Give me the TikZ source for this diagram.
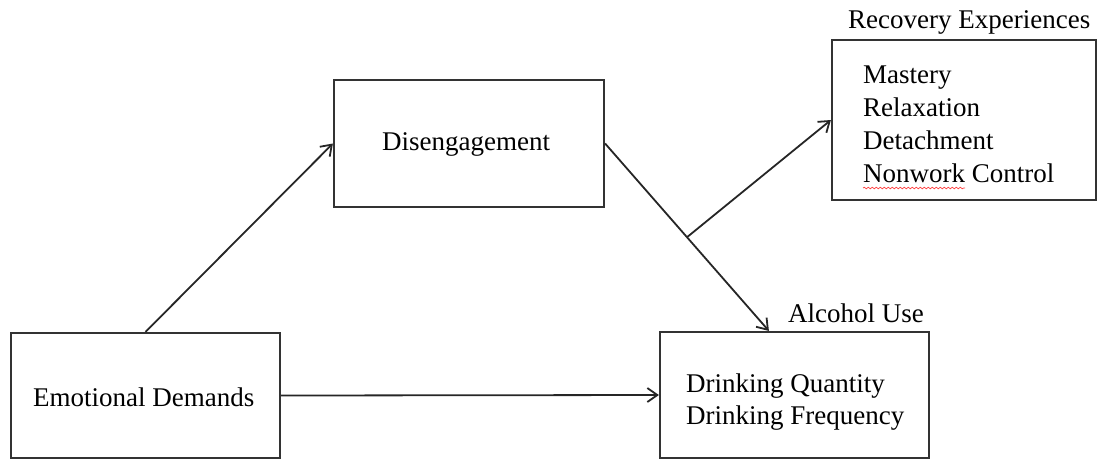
\documentclass[tikz,border=0pt]{standalone}
\usepackage{fontspec}
\setmainfont{Liberation Serif}
\usetikzlibrary{arrows.meta,decorations.pathmorphing,calc}
\begin{document}
\begin{tikzpicture}[x=1pt,y=-1pt,
  box/.style={draw=black!80, line width=2.2pt, inner sep=0pt, rectangle},
  lbl/.style={anchor=base west, inner sep=0pt, font=\fontsize{27}{33}\selectfont, text=black},
  arr/.style={draw=black!85, line width=1.8pt, -{Straight Barb[length=10pt,width=14pt,line width=1.8pt]}}]
\useasboundingbox (0,0) rectangle (1097,459);
% boxes
\node[box, minimum width=269pt, minimum height=125pt] (emo) at (145.5,395.5) {};
\node[box, minimum width=270pt, minimum height=127pt] (dis) at (469,143.5) {};
\node[box, minimum width=264pt, minimum height=160pt] (rec) at (964,120) {};
\node[box, minimum width=269pt, minimum height=126pt] (alc) at (794.5,395) {};
% texts
\node[lbl] (emot) at (33,406) {Emotional Demands};
\node[lbl] (dist) at (382,150) {Disengagement};
\node[lbl] (rect) at (848,28) {Recovery Experiences};
\node[lbl] (m1) at (863,83) {Mastery};
\node[lbl] (m2) at (863,116) {Relaxation};
\node[lbl] (m3) at (863,149) {Detachment};
\node[lbl] (m4) at (863,182) {Nonwork Control};
\node[lbl] (alct) at (788,322) {Alcohol Use};
\node[lbl] (a1) at (686,392) {Drinking Quantity};
\node[lbl] (a2) at (686,424) {Drinking Frequency};
% spell-check squiggle
\draw[red!75, line width=0.7pt, decorate, decoration={snake, amplitude=0.8pt, segment length=4pt}]
  ($(m4.base west)+(0,6)$) -- ($(m4.base west)+(102,6)$);
% connectors
\coordinate (alctop) at ($(alc.north west)+(110,0)$);
\draw[arr] (emo.north) -- (dis.west);
\draw[arr] (emo.east) -- (alc.west);
\draw[arr] (dis.east) -- coordinate[pos=0.5] (mid) (alctop);
\draw[arr] (mid) -- (rec.west);
\end{tikzpicture}
\end{document}
